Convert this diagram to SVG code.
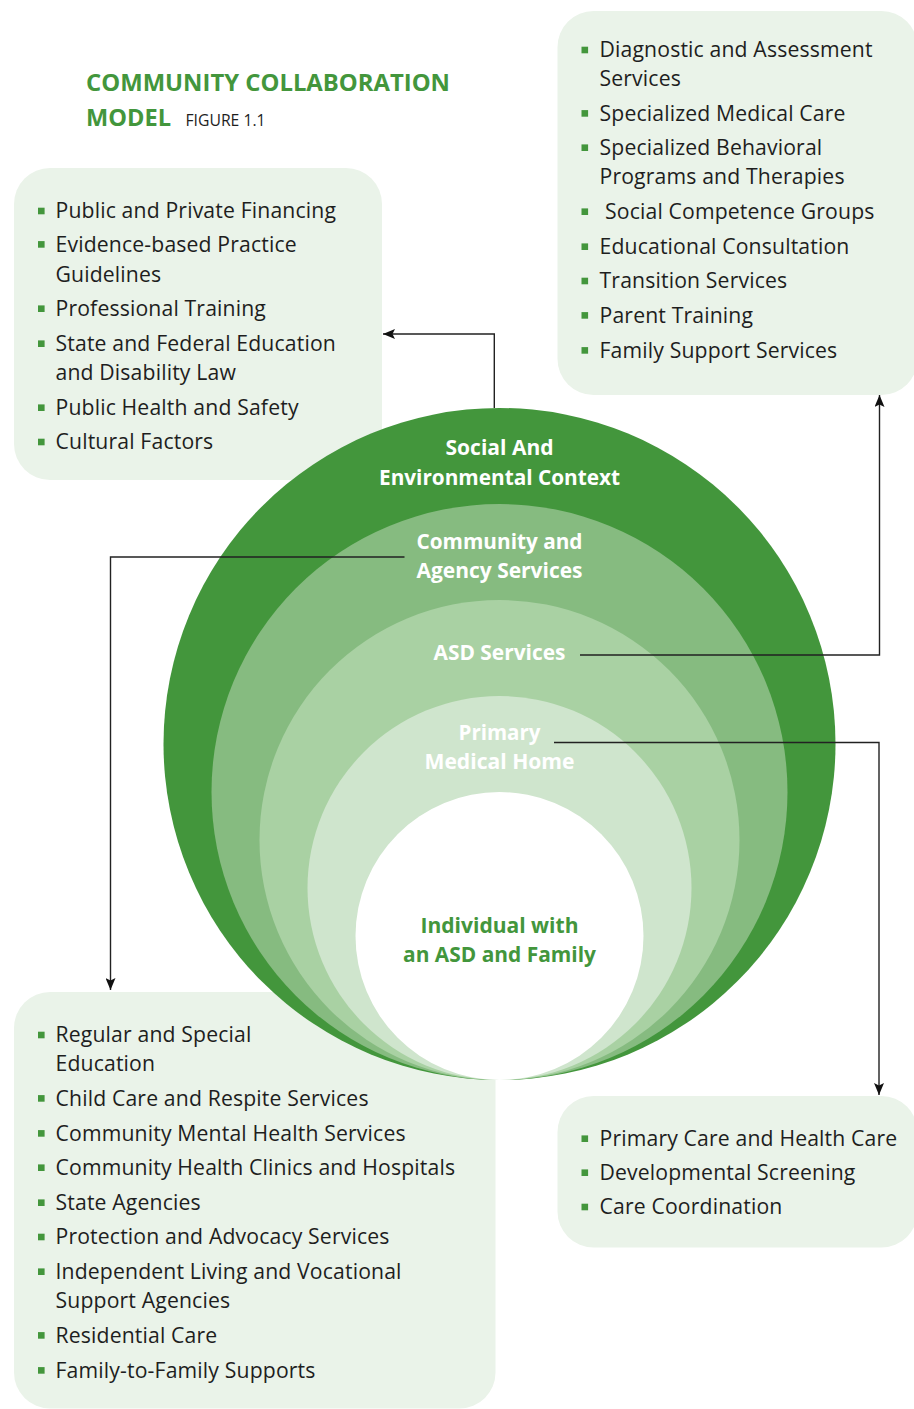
<svg xmlns="http://www.w3.org/2000/svg" width="914" height="1409" viewBox="0 0 914 1409">
<style>
.box{fill:#eaf3e9}
.b{fill:#43963c}
.t{font-family:"Open Sans","Noto Sans",sans-serif;font-size:21.2px;letter-spacing:0.15px;fill:#1e1e1e}
.lbl{font-family:"Open Sans","Noto Sans",sans-serif;font-size:22px;font-weight:700;fill:#ffffff;text-anchor:middle}
.ttl{font-family:"Open Sans","Noto Sans",sans-serif;font-weight:700;font-size:24px;fill:#43963c}
.fig{font-family:"Open Sans","Noto Sans",sans-serif;font-size:17px;fill:#1e1e1e}
.ln{fill:none;stroke:#222;stroke-width:1.4}
</style>
<defs>
<marker id="ah" viewBox="0 0 12 10" refX="12" refY="5" markerWidth="12" markerHeight="10" markerUnits="userSpaceOnUse" orient="auto">
<path d="M0,0 L12,5 L0,10 L2.5,5 z" fill="#111"/>
</marker>
</defs>
<rect width="914" height="1409" fill="#ffffff"/>

<g id="title">
<text class="ttl" x="86" y="91" textLength="364" lengthAdjust="spacingAndGlyphs">COMMUNITY COLLABORATION</text>
<text class="ttl" x="86" y="125.5" textLength="85" lengthAdjust="spacingAndGlyphs">MODEL</text>
<text class="fig" x="185.5" y="125.5" textLength="80" lengthAdjust="spacingAndGlyphs">FIGURE 1.1</text>
</g>

<g id="box-social">
<rect class="box" x="14" y="168" width="368" height="312" rx="36"/>
<rect class="b" x="38" y="207.7" width="6.6" height="6.6"/>
<text class="t" x="55.5" y="218.3">Public and Private Financing</text>
<rect class="b" x="38" y="241.1" width="6.6" height="6.6"/>
<text class="t" x="55.5" y="251.7">Evidence-based Practice</text>
<text class="t" x="55.5" y="281.7">Guidelines</text>
<rect class="b" x="38" y="305.4" width="6.6" height="6.6"/>
<text class="t" x="55.5" y="316">Professional Training</text>
<rect class="b" x="38" y="340.4" width="6.6" height="6.6"/>
<text class="t" x="55.5" y="351">State and Federal Education</text>
<text class="t" x="55.5" y="380">and Disability Law</text>
<rect class="b" x="38" y="404.4" width="6.6" height="6.6"/>
<text class="t" x="55.5" y="415">Public Health and Safety</text>
<rect class="b" x="38" y="438.7" width="6.6" height="6.6"/>
<text class="t" x="55.5" y="449.3">Cultural Factors</text>
</g>

<g id="box-asd">
<rect class="box" x="557.5" y="11" width="360" height="384" rx="36"/>
<rect class="b" x="581.5" y="46.7" width="6.6" height="6.6"/>
<text class="t" x="599.5" y="57.3">Diagnostic and Assessment</text>
<text class="t" x="599.5" y="86">Services</text>
<rect class="b" x="581.5" y="110.1" width="6.6" height="6.6"/>
<text class="t" x="599.5" y="120.7">Specialized Medical Care</text>
<rect class="b" x="581.5" y="144.4" width="6.6" height="6.6"/>
<text class="t" x="599.5" y="155">Specialized Behavioral</text>
<text class="t" x="599.5" y="184.3">Programs and Therapies</text>
<rect class="b" x="581.5" y="208.4" width="6.6" height="6.6"/>
<text class="t" x="605" y="219">Social Competence Groups</text>
<rect class="b" x="581.5" y="243.4" width="6.6" height="6.6"/>
<text class="t" x="599.5" y="254">Educational Consultation</text>
<rect class="b" x="581.5" y="277.7" width="6.6" height="6.6"/>
<text class="t" x="599.5" y="288.3">Transition Services</text>
<rect class="b" x="581.5" y="312.1" width="6.6" height="6.6"/>
<text class="t" x="599.5" y="322.7">Parent Training</text>
<rect class="b" x="581.5" y="347.1" width="6.6" height="6.6"/>
<text class="t" x="599.5" y="357.7">Family Support Services</text>
</g>

<g id="box-community">
<rect class="box" x="14" y="992" width="481.5" height="416.5" rx="36"/>
<rect class="b" x="38" y="1031.7" width="6.6" height="6.6"/>
<text class="t" x="55.5" y="1042.3">Regular and Special</text>
<text class="t" x="55.5" y="1070.7">Education</text>
<rect class="b" x="38" y="1095.1" width="6.6" height="6.6"/>
<text class="t" x="55.5" y="1105.7">Child Care and Respite Services</text>
<rect class="b" x="38" y="1130.1" width="6.6" height="6.6"/>
<text class="t" x="55.5" y="1140.7">Community Mental Health Services</text>
<rect class="b" x="38" y="1164.4" width="6.6" height="6.6"/>
<text class="t" x="55.5" y="1175">Community Health Clinics and Hospitals</text>
<rect class="b" x="38" y="1199.4" width="6.6" height="6.6"/>
<text class="t" x="55.5" y="1210">State Agencies</text>
<rect class="b" x="38" y="1233.7" width="6.6" height="6.6"/>
<text class="t" x="55.5" y="1244.3">Protection and Advocacy Services</text>
<rect class="b" x="38" y="1268.4" width="6.6" height="6.6"/>
<text class="t" x="55.5" y="1279">Independent Living and Vocational</text>
<text class="t" x="55.5" y="1308.3">Support Agencies</text>
<rect class="b" x="38" y="1332.1" width="6.6" height="6.6"/>
<text class="t" x="55.5" y="1342.7">Residential Care</text>
<rect class="b" x="38" y="1367.1" width="6.6" height="6.6"/>
<text class="t" x="55.5" y="1377.7">Family-to-Family Supports</text>
</g>

<g id="box-primary">
<rect class="box" x="557.5" y="1096" width="360" height="151.5" rx="36"/>
<rect class="b" x="581.5" y="1135.4" width="6.6" height="6.6"/>
<text class="t" x="599.5" y="1146">Primary Care and Health Care</text>
<rect class="b" x="581.5" y="1169.4" width="6.6" height="6.6"/>
<text class="t" x="599.5" y="1180">Developmental Screening</text>
<rect class="b" x="581.5" y="1203.7" width="6.6" height="6.6"/>
<text class="t" x="599.5" y="1214.3">Care Coordination</text>
</g>

<g id="rings">
<g id="ring-social"><circle cx="499.5" cy="744" r="336" fill="#43963c"/></g>
<g id="ring-community"><circle cx="499.5" cy="792" r="288" fill="#86bb80"/></g>
<g id="ring-asd"><circle cx="499.5" cy="840" r="240" fill="#a9d1a3"/></g>
<g id="ring-primary"><circle cx="499.5" cy="888" r="192" fill="#cfe5cd"/></g>
<g id="core"><circle cx="499.5" cy="936" r="144" fill="#ffffff"/></g>
</g>

<g id="labels">
<text class="lbl" x="499.5" y="455" textLength="108" lengthAdjust="spacingAndGlyphs">Social And</text>
<text class="lbl" x="499.5" y="485" textLength="241" lengthAdjust="spacingAndGlyphs">Environmental Context</text>
<text class="lbl" x="499.5" y="549" textLength="166" lengthAdjust="spacingAndGlyphs">Community and</text>
<text class="lbl" x="499.5" y="578" textLength="166" lengthAdjust="spacingAndGlyphs">Agency Services</text>
<text class="lbl" x="499.5" y="660" textLength="132" lengthAdjust="spacingAndGlyphs">ASD Services</text>
<text class="lbl" x="499.5" y="740" textLength="82" lengthAdjust="spacingAndGlyphs">Primary</text>
<text class="lbl" x="499.5" y="769" textLength="150" lengthAdjust="spacingAndGlyphs">Medical Home</text>
<text class="lbl" x="499.5" y="933" textLength="158" lengthAdjust="spacingAndGlyphs" style="fill:#43963c">Individual with</text>
<text class="lbl" x="499.5" y="962" textLength="193" lengthAdjust="spacingAndGlyphs" style="fill:#43963c">an ASD and Family</text>
</g>

<g id="connectors">
<polyline class="ln" points="494.3,408 494.3,334 383,334" marker-end="url(#ah)"/>
<polyline class="ln" points="404.5,557 110.5,557 110.5,990" marker-end="url(#ah)"/>
<polyline class="ln" points="580,655 879.5,655 879.5,395" marker-end="url(#ah)"/>
<polyline class="ln" points="554,742.5 879,742.5 879,1095" marker-end="url(#ah)"/>
</g>
</svg>
